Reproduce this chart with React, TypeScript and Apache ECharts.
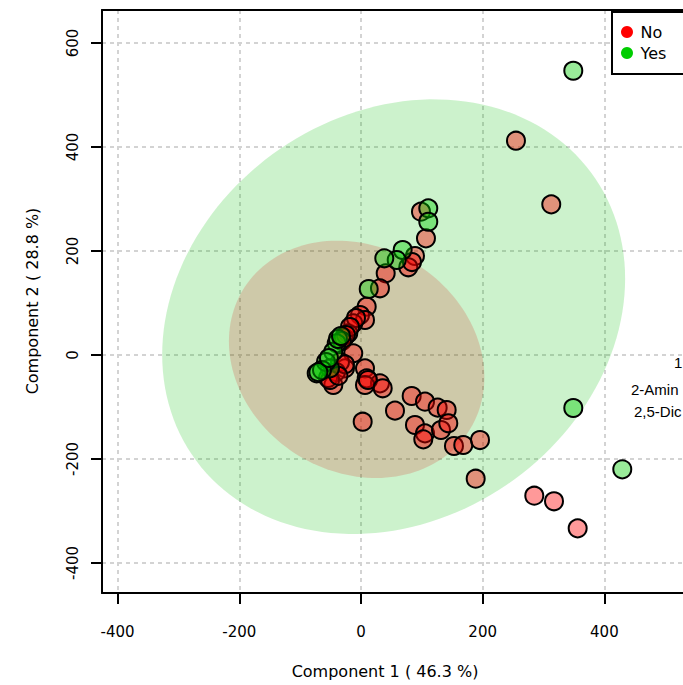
import React, { useEffect, useRef } from "react";
import * as echarts from "echarts";

const FONT = "DejaVu Sans";

// Axis ranges and tick values
const xRange = [-425.6, 529.2];
const yRange = [-457.7, 663.5];
const xTicks = [-400, -200, 0, 200, 400];
const yTicks = [-400, -200, 0, 200, 400, 600];

// Score points, group "No"
const noPoints: [number, number][] = [
  [254.7, 412.1], [312.7, 289.8], [98.6, 275.6], [106.8, 224.4], [88.7, 190.4],
  [77.7, 168.7], [83.8, 178.8], [40.6, 157.1], [31.2, 128.3], [9.4, 92.9],
  [-1.6, 76.9], [6.6, 67.3], [-12.7, 61.0], [-20.9, 41.7], [-8.2, 71.2],
  [-27.9, 32.7], [-18.1, 53.8], [-24.7, 38.5], [-31.2, 26.9], [-12.7, 3.3],
  [-26.3, -25.6], [-45.5, -57.7], [-34.5, -13.5], [-41.1, -32.7], [-54.2, -44.2],
  [-50.9, -48.1], [6.6, -25.6], [9.4, -44.8], [31.2, -54.4], [6.6, -57.7],
  [11.5, -48.1], [35.7, -64.0], [2.8, -128.3], [55.9, -107.1], [83.3, -78.8],
  [105.2, -89.8], [126.0, -101.3], [140.8, -105.8], [88.7, -134.6], [105.2, -150.6],
  [102.4, -162.1], [131.5, -144.2], [143.5, -131.3], [152.8, -175.0], [168.1, -173.1],
  [195.6, -163.5], [188.5, -237.9], [284.8, -270.6], [317.2, -281.3], [356.1, -333.3],
  [-26.3, -18.0], [-37.0, -40.0]
];

// Score points, group "Yes"
const yesPoints: [number, number][] = [
  [348.9, 546.7], [348.9, -101.9], [429.4, -219.8], [110.6, 282.1], [110.6, 256.3],
  [68.5, 201.9], [58.7, 182.7], [38.3, 186.0], [12.7, 126.9], [-39.9, 22.5],
  [-45.5, 6.3], [-50.9, -25.6], [-72.8, -35.2], [-37.8, 30.8], [-57.5, -13.5],
  [-64.1, -28.8], [-70.0, -33.0], [-32.9, 36.5], [-52.6, -5.8]
];

// 95% confidence ellipses: centre and two conjugate semi-axis vectors (data units)
const ellipseNames = ["Yes", "No"];
const ellipseCenters = [[53.7, 73.75], [-7.15, -8.3]];
const ellipseU = [[380.4, 73.1], [209.9, -34.6]];
const ellipseV = [[0, 411.5], [0, 225.6]];
const ellipseFills = ["rgba(0,190,0,0.2)", "rgba(222,0,0,0.17)"];

// Loading labels (at the right edge)
const loadingNames = ["1", "2-Amin", "2,5-Dic"];
const loadingPoints: [number, number][] = [[514.4, -13.5], [443.7, -65.4], [448.6, -109.6]];

export default function App() {
  const ref = useRef<HTMLDivElement>(null);
  useEffect(() => {
    if (!ref.current) return;
    const chart = echarts.init(ref.current, null, { renderer: "svg" });
    const axisLineStyle = { color: "#000", width: 2 };
    const option: any = {
      animation: false,
      backgroundColor: "#ffffff",
      textStyle: { fontFamily: FONT },
      grid: { left: 102, top: 10, width: 581, height: 583, show: false },
      xAxis: [
        {
          type: "value",
          min: xRange[0],
          max: xRange[1],
          position: "bottom",
          axisLine: { show: true, onZero: false, lineStyle: axisLineStyle },
          axisTick: { show: true, customValues: xTicks, length: 11, lineStyle: axisLineStyle },
          axisLabel: { customValues: xTicks, margin: 31, fontSize: 15, color: "#000", fontFamily: FONT },
          splitLine: { show: true, lineStyle: { color: "#d3d3d3", width: 2, type: [4, 4] } },
        },
        {
          type: "value",
          min: xRange[0],
          max: xRange[1],
          position: "top",
          axisLine: { show: true, onZero: false, lineStyle: axisLineStyle },
          axisTick: { show: false },
          axisLabel: { show: false },
          splitLine: { show: false },
        },
      ],
      yAxis: {
        type: "value",
        min: yRange[0],
        max: yRange[1],
        axisLine: { show: true, onZero: false, lineStyle: axisLineStyle },
        axisTick: { show: true, customValues: yTicks, length: 11, lineStyle: axisLineStyle },
        axisLabel: { customValues: yTicks, rotate: 90, margin: 22, fontSize: 15, color: "#000", fontFamily: FONT },
        splitLine: { show: true, lineStyle: { color: "#d3d3d3", width: 2, type: [4, 4] } },
      },
      legend: {
        left: 612,
        top: 12,
        orient: "vertical",
        selectedMode: false,
        itemWidth: 17,
        itemHeight: 12,
        itemGap: 5,
        padding: [12, 40, 13, 9],
        borderColor: "#000",
        borderWidth: 2,
        borderRadius: 0,
        backgroundColor: "#fff",
        textStyle: { fontSize: 16, color: "#000", fontFamily: FONT },
        data: [
          { name: "No", icon: "circle", itemStyle: { color: "#ff0000", borderWidth: 0 } },
          { name: "Yes", icon: "circle", itemStyle: { color: "#00cd00", borderWidth: 0 } },
        ],
      },
      graphic: [
        {
          type: "text",
          x: 385,
          y: 671,
          style: { text: "Component 1 ( 46.3 %)", fontSize: 16, fontFamily: FONT, fill: "#000", align: "center", verticalAlign: "middle" },
        },
        {
          type: "text",
          x: 32,
          y: 301,
          rotation: Math.PI / 2,
          style: { text: "Component 2 ( 28.8 %)", fontSize: 16, fontFamily: FONT, fill: "#000", align: "center", verticalAlign: "middle" },
        },
      ],
      series: [
        {
          type: "custom",
          name: "ellipses",
          z: 1,
          silent: true,
          data: ellipseCenters.map((c, i) => [c[0], c[1], i]),
          encode: { x: 0, y: 1 },
          renderItem: (params: any, api: any) => {
            const i = params.dataIndex;
            const c = ellipseCenters[i];
            const u = ellipseU[i];
            const v = ellipseV[i];
            const pts: number[][] = [];
            const n = 160;
            for (let k = 0; k < n; k++) {
              const t = (k / n) * Math.PI * 2;
              const x = c[0] + u[0] * Math.cos(t) + v[0] * Math.sin(t);
              const y = c[1] + u[1] * Math.cos(t) + v[1] * Math.sin(t);
              pts.push(api.coord([x, y]));
            }
            return { type: "polygon", shape: { points: pts }, style: { fill: ellipseFills[i], stroke: "none" } };
          },
        },
        {
          type: "scatter",
          name: "No",
          z: 3,
          symbol: "circle",
          symbolSize: 18,
          data: noPoints,
          itemStyle: { color: "rgba(255,0,0,0.4)", borderColor: "#000", borderWidth: 2, opacity: 1 },
        },
        {
          type: "scatter",
          name: "Yes",
          z: 3,
          symbol: "circle",
          symbolSize: 18,
          data: yesPoints,
          itemStyle: { color: "rgba(0,205,0,0.4)", borderColor: "#000", borderWidth: 2, opacity: 1 },
        },
        {
          type: "scatter",
          name: "loadings",
          z: 4,
          symbolSize: 0,
          silent: true,
          itemStyle: { color: "#000", opacity: 0 },
          data: loadingPoints.map((p, i) => ({ value: p, name: loadingNames[i] })),
          labelLayout: { hideOverlap: false },
          label: {
            show: true,
            position: "right",
            distance: 0,
            formatter: (p: any) => p.name,
            fontSize: 15,
            fontFamily: "Liberation Sans",
            color: "#000",
            opacity: 1,
            textBorderWidth: 0,
          },
        },
      ],
    };
    chart.setOption(option);
    return () => chart.dispose();
  }, []);
  return (
    <div
      ref={ref}
      style={{ position: "fixed", left: 0, top: 0, width: 683, height: 685, background: "#fff" }}
    />
  );
}
